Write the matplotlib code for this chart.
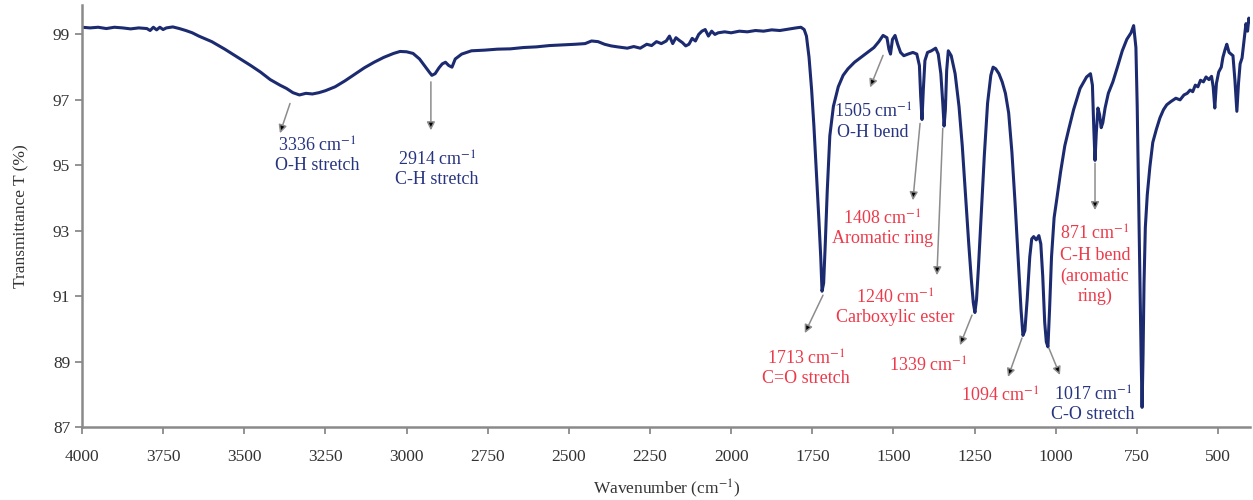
import matplotlib
matplotlib.use('Agg')
from matplotlib import pyplot as plt

plt.rcParams['font.family'] = ['Liberation Serif', 'DejaVu Serif']
plt.rcParams['mathtext.fontset'] = 'stix'

# FTIR spectrum: (wavenumber cm-1, transmittance %)
spectrum = [
    (4000, 99.22), (3975, 99.20), (3950, 99.22), (3925, 99.18), (3900, 99.22),
    (3875, 99.20), (3850, 99.17), (3825, 99.20), (3800, 99.18), (3790, 99.12),
    (3780, 99.22), (3770, 99.14), (3760, 99.22), (3750, 99.15), (3740, 99.20),
    (3720, 99.23), (3700, 99.18), (3680, 99.12), (3660, 99.05), (3640, 98.95),
    (3600, 98.78), (3560, 98.55), (3520, 98.30), (3480, 98.05), (3450, 97.85),
    (3420, 97.62), (3390, 97.45), (3370, 97.35), (3350, 97.22), (3330, 97.15),
    (3310, 97.20), (3290, 97.18), (3270, 97.22), (3250, 97.28), (3220, 97.40),
    (3190, 97.58), (3160, 97.78), (3130, 97.98), (3100, 98.15), (3070, 98.30),
    (3040, 98.42), (3020, 98.48), (3000, 98.47), (2980, 98.42), (2960, 98.25),
    (2945, 98.05), (2930, 97.85), (2922, 97.75), (2912, 97.80), (2900, 97.98),
    (2890, 98.10), (2880, 98.15), (2870, 98.05), (2860, 98.00), (2850, 98.25),
    (2830, 98.40), (2800, 98.50), (2760, 98.52), (2720, 98.55), (2680, 98.56),
    (2640, 98.60), (2600, 98.62), (2560, 98.66), (2520, 98.68), (2480, 98.70),
    (2450, 98.72), (2430, 98.80), (2410, 98.78), (2390, 98.70), (2370, 98.65),
    (2350, 98.62), (2320, 98.58), (2300, 98.63), (2280, 98.58), (2260, 98.70),
    (2245, 98.66), (2230, 98.78), (2215, 98.72), (2200, 98.80), (2190, 98.95),
    (2180, 98.72), (2170, 98.90), (2160, 98.82), (2150, 98.75), (2140, 98.65),
    (2130, 98.70), (2120, 98.88), (2110, 98.80), (2100, 99.00), (2090, 99.10),
    (2080, 99.15), (2070, 98.95), (2060, 99.10), (2050, 99.00), (2040, 99.05),
    (2020, 99.08), (2000, 99.05), (1975, 99.10), (1950, 99.08), (1925, 99.12),
    (1900, 99.10), (1875, 99.14), (1850, 99.12), (1825, 99.16), (1800, 99.20),
    (1785, 99.22), (1775, 99.15), (1768, 98.95), (1760, 98.30), (1752, 97.30),
    (1745, 96.20), (1738, 94.90), (1730, 93.40), (1724, 92.20), (1720, 91.15),
    (1715, 91.40), (1710, 92.60), (1704, 94.20), (1696, 95.90), (1685, 96.80),
    (1670, 97.40), (1655, 97.75), (1640, 97.95), (1620, 98.15), (1600, 98.30),
    (1580, 98.45), (1560, 98.60), (1545, 98.78), (1532, 98.97), (1520, 98.90),
    (1514, 98.55), (1509, 98.40), (1503, 98.85), (1495, 98.97), (1487, 98.70),
    (1478, 98.45), (1468, 98.35), (1455, 98.40), (1440, 98.45), (1428, 98.40),
    (1420, 98.05), (1416, 97.10), (1412, 96.40), (1408, 97.30), (1403, 98.20),
    (1395, 98.45), (1383, 98.50), (1370, 98.58), (1362, 98.40), (1354, 97.80),
    (1348, 96.90), (1344, 96.20), (1340, 96.70), (1336, 97.90), (1331, 98.50),
    (1322, 98.35), (1310, 97.80), (1298, 96.80), (1288, 95.60), (1278, 94.10),
    (1268, 92.60), (1260, 91.50), (1254, 90.80), (1249, 90.50), (1244, 90.90),
    (1238, 91.90), (1230, 93.40), (1220, 95.30), (1210, 96.90), (1200, 97.75),
    (1193, 98.00), (1185, 97.95), (1175, 97.80), (1165, 97.55), (1155, 97.20),
    (1145, 96.60), (1135, 95.40), (1125, 93.80), (1115, 92.00), (1107, 90.60),
    (1101, 89.80), (1095, 89.95), (1088, 90.90), (1080, 92.20), (1074, 92.75),
    (1068, 92.82), (1060, 92.72), (1052, 92.85), (1046, 92.60), (1040, 91.60),
    (1034, 90.20), (1029, 89.60), (1024, 89.45), (1019, 90.60), (1013, 92.20),
    (1005, 93.40), (997, 93.95), (985, 94.80), (972, 95.60), (960, 96.10),
    (945, 96.70), (925, 97.35), (905, 97.70), (893, 97.80), (887, 97.45),
    (883, 96.20), (879, 95.15), (875, 96.00), (870, 96.75), (865, 96.55),
    (860, 96.15), (855, 96.30), (848, 96.75), (838, 97.20), (824, 97.55),
    (810, 98.00), (795, 98.50), (781, 98.85), (768, 99.05), (760, 99.27),
    (753, 98.60), (749, 96.80), (745, 94.20), (741, 91.50), (737, 89.20),
    (734, 87.60), (731, 89.20), (728, 91.40), (724, 93.10), (718, 94.10),
    (710, 94.95), (701, 95.70), (690, 96.10), (679, 96.45), (668, 96.70),
    (658, 96.85), (645, 96.95), (630, 97.05), (617, 97.00), (605, 97.15),
    (595, 97.20), (586, 97.30), (578, 97.25), (570, 97.45), (562, 97.40),
    (554, 97.60), (545, 97.55), (537, 97.70), (528, 97.62), (520, 97.72),
    (515, 97.40), (510, 96.75), (505, 97.50), (498, 97.85), (490, 98.00),
    (485, 98.30), (478, 98.55), (473, 98.70), (466, 98.45), (460, 98.40),
    (454, 98.35), (448, 97.60), (442, 96.65), (437, 97.50), (432, 98.10),
    (426, 98.28), (420, 98.80), (414, 99.33), (409, 99.10), (405, 99.50),
    (402, 99.40),
]
wavenumber = [w for w, _ in spectrum]
transmittance = [t for _, t in spectrum]

# peak labels: text, text position, arrow tail (on the peak), arrow head, colour
navy = '#27347f'
red = '#ec3a4a'
labels = [
    ('3336 cm$^{-1}$\nO-H stretch', (3276, 95.30), (3359, 96.89), (3390, 95.98), navy),
    ('2914 cm$^{-1}$\nC-H stretch', (2906, 94.88), (2925, 97.55), (2925, 96.07), navy),
    ('1505 cm$^{-1}$\nO-H bend', (1563, 96.33), (1532, 98.36), (1572, 97.38), navy),
    ('1408 cm$^{-1}$\nAromatic ring', (1535, 93.08), (1418, 96.28), (1440, 93.93), red),
    ('1240 cm$^{-1}$\nCarboxylic ester', (1495, 90.66), (1348, 96.13), (1366, 91.64), red),
    ('1713 cm$^{-1}$\nC=O stretch', (1770, 88.80), (1717, 91.03), (1773, 89.87), red),
    ('1339 cm$^{-1}$', (1394, 88.85), (1258, 90.42), (1295, 89.50), red),
    ('1094 cm$^{-1}$', (1172, 87.94), (1104, 89.72), (1147, 88.53), red),
    ('1017 cm$^{-1}$\nC-O stretch', (885, 87.70), (1021, 89.41), (987, 88.59), navy),
    ('871 cm$^{-1}$\nC-H bend\n(aromatic\nring)', (879, 91.95), (879, 95.06), (879, 93.63), red),
]

fig = plt.figure(figsize=(12.53, 5), dpi=100)
ax = fig.add_axes([0.0654, 0.146, 0.9326, 0.844])

ax.plot(wavenumber, transmittance, color='#1c2b70', lw=2.2)

for text, pos, tail, head, col in labels:
    ax.annotate('', xy=head, xytext=tail,
                arrowprops=dict(arrowstyle='-|>', mutation_scale=12,
                                edgecolor='#8c8c8c', facecolor='black', lw=1.1,
                                shrinkA=0, shrinkB=0))
    spacing = 1.25 if text.count('\n') > 1 else 1.1
    ax.text(pos[0], pos[1], text, color=col, fontsize=13, ha='center', va='center',
            linespacing=spacing)

ax.set_xlim(4000, 400)
ax.set_ylim(87, 99.9)
ax.set_xticks(range(4000, 499, -250))
ax.set_yticks([87, 89, 91, 93, 95, 97, 99])

for side in ('top', 'right'):
    ax.spines[side].set_visible(False)
for side in ('left', 'bottom'):
    ax.spines[side].set_color('#8a8a8a')
    ax.spines[side].set_linewidth(1.8)
ax.tick_params(axis='both', colors='#8a8a8a', labelcolor='#333333', labelsize=12.5,
               length=5, width=1.3)
ax.tick_params(axis='x', pad=11)

ax.set_xlabel('Wavenumber (cm$^{-1}$)', fontsize=12.5, color='#333333', labelpad=9)
ax.set_ylabel('Transmittance T (%)', fontsize=12.5, color='#333333', labelpad=17)

fig.savefig('out.png', dpi=100)
